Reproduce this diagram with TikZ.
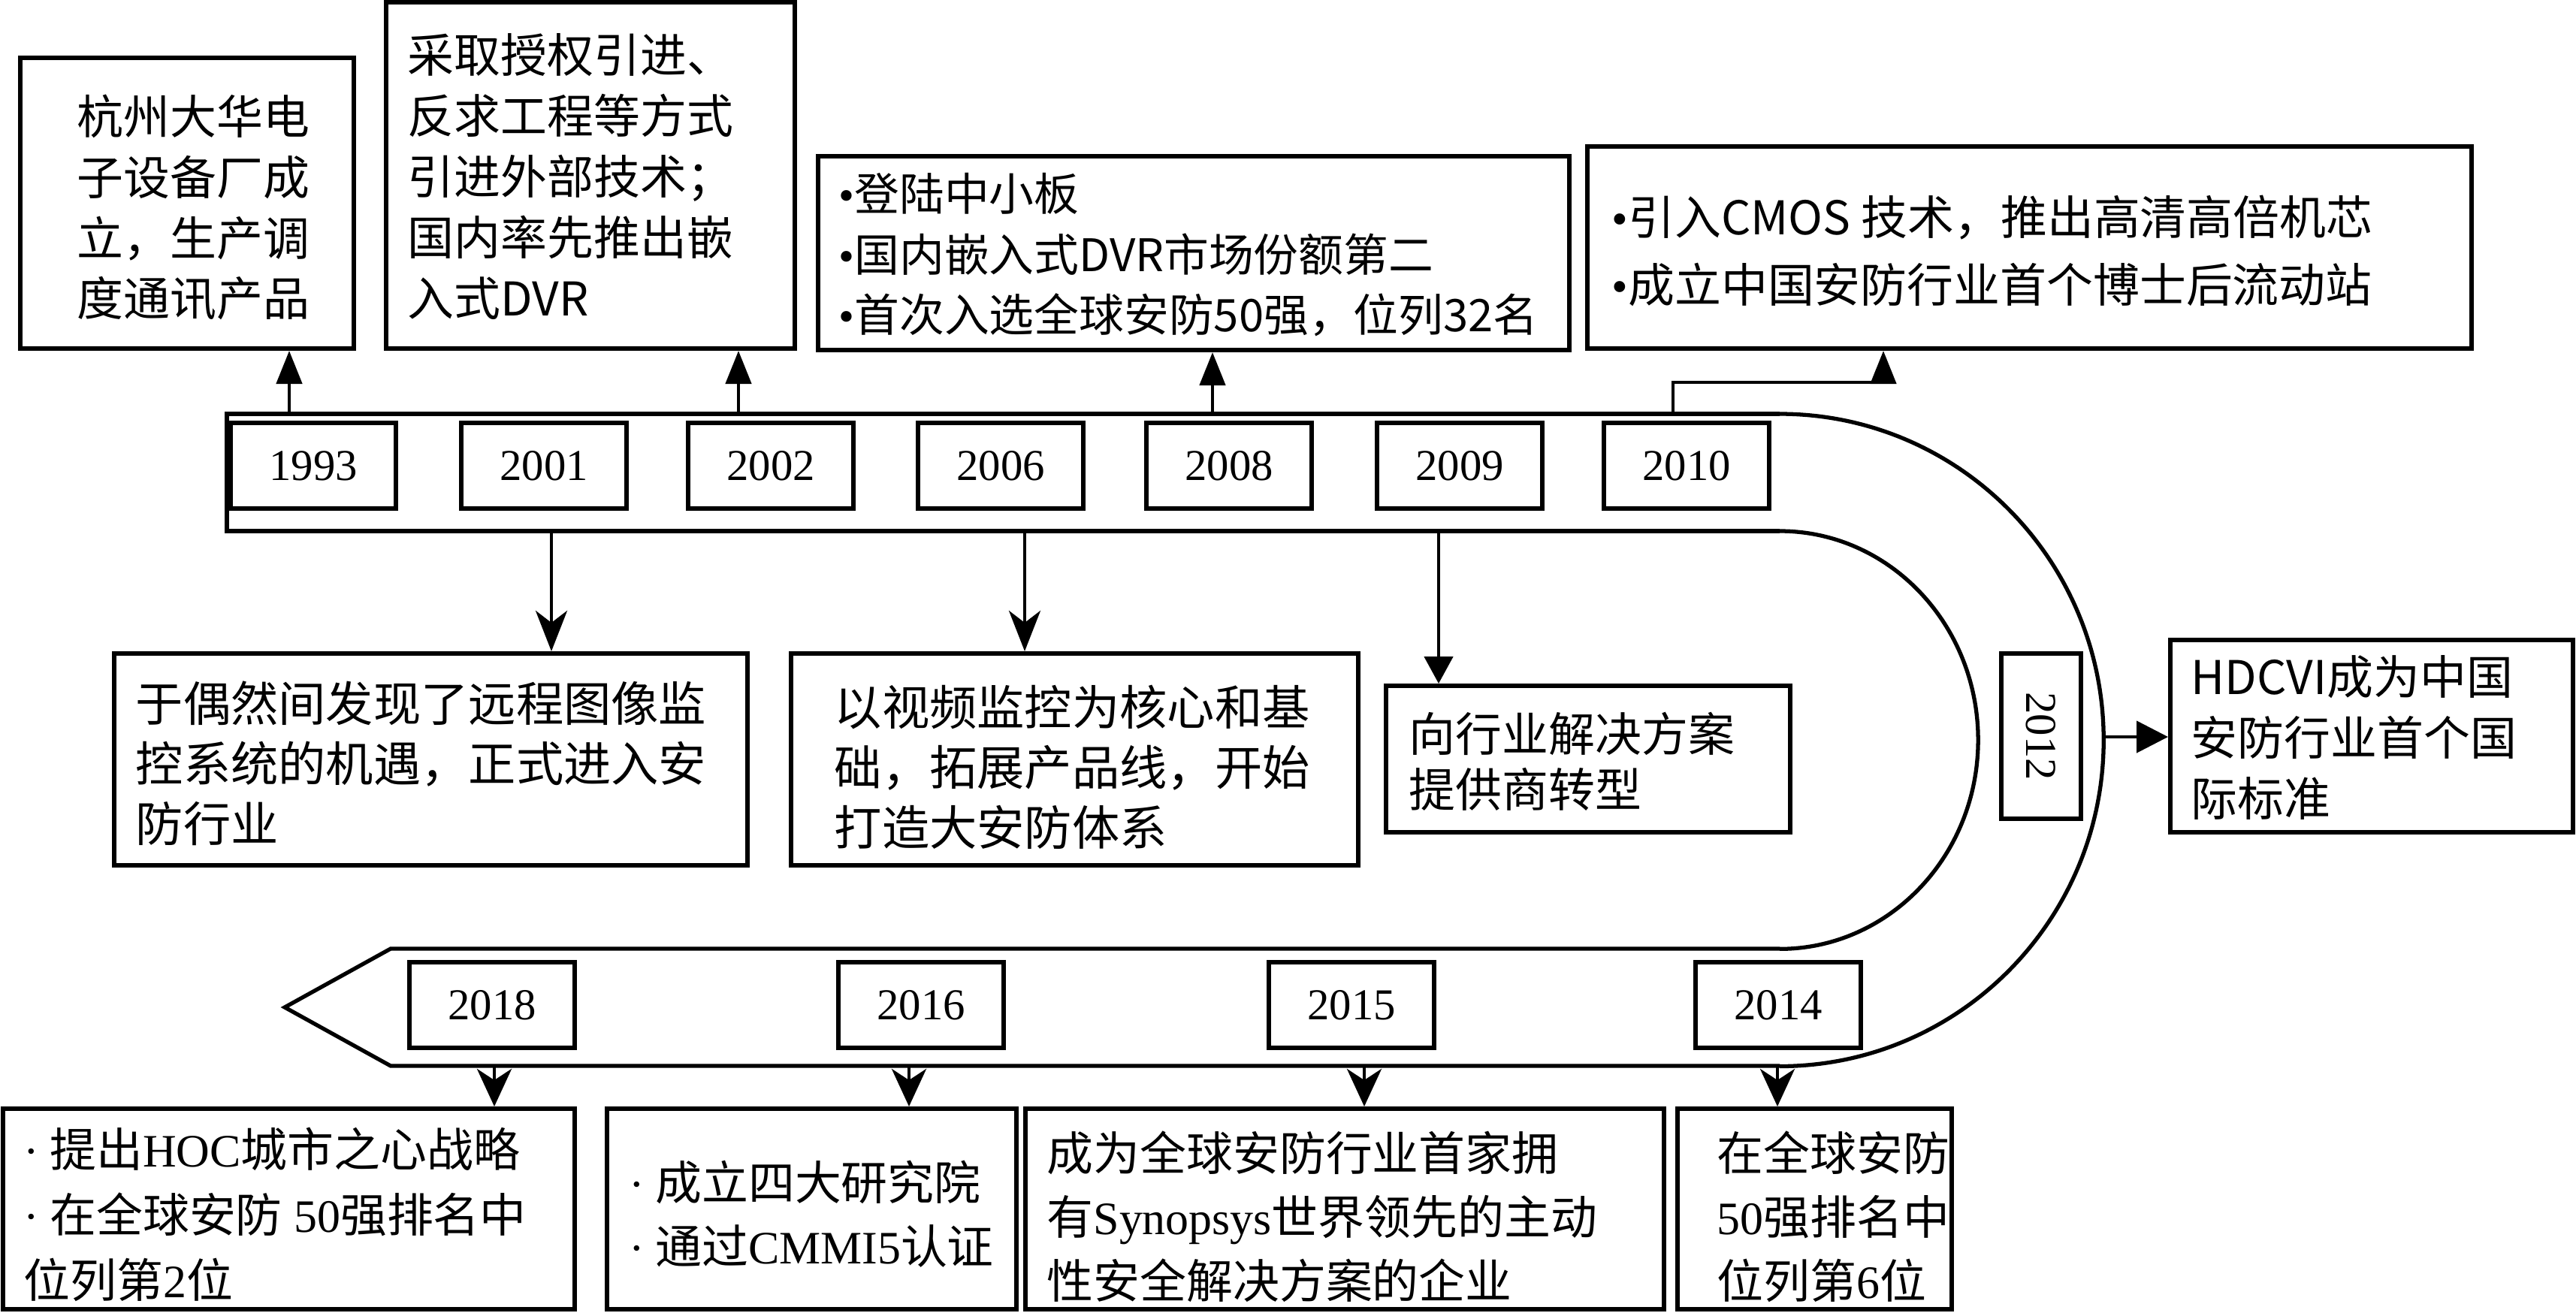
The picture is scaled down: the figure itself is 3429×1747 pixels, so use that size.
\documentclass[tikz,border=0pt]{standalone}
\usepackage{fontspec}
\setmainfont{Liberation Serif}
\newfontfamily\cjk{Noto Sans CJK SC}
\usetikzlibrary{arrows.meta,fit}
\newcommand\latn[1]{{\rmfamily #1}}
\newcommand\blt{{\rmfamily •}}
\begin{document}
\begin{tikzpicture}[x=0.01cm,y=-0.01cm,
 box/.style={draw,line width=1.7pt,inner sep=0pt},
 yrbox/.style={draw,line width=1.7pt,inner sep=0pt,minimum width=2.2cm,minimum height=1.14cm,font=\fontsize{16.7}{20}\selectfont},
 txt/.style={anchor=north west,inner sep=0pt,align=left},
 band/.style={line width=1.5pt},
 con/.style={line width=1.3pt},
 upar/.style={con,-{Triangle[length=0.44cm,width=0.34cm]}},
 dnar/.style={con,-{Stealth[length=0.54cm,width=0.42cm,inset=0.16cm]}},
 btar/.style={con,-{Stealth[length=0.5cm,width=0.46cm,inset=0.15cm]}},
]
\useasboundingbox (0,0) rectangle (3429,1747);

% ---- text boxes ----
\node[box,fit={(27,77)(471,464)}] (bA) {};
\node[box,fit={(514,3)(1058,464)}] (bB) {};
\node[box,fit={(1089,208)(2089,466)}] (bC) {};
\node[box,fit={(2113,195)(3290,464)}] (bD) {};
\node[box,fit={(152,870)(995,1152)}] (bI) {};
\node[box,fit={(1053,870)(1808,1152)}] (bJ) {};
\node[box,fit={(1845,913)(2383,1108)}] (bK) {};
\node[box,fit={(2889,852)(3425,1108)}] (bL) {};
\node[box,fit={(4,1476)(765,1743)}] (bE) {};
\node[box,fit={(808,1476)(1353,1743)}] (bF) {};
\node[box,fit={(1365,1476)(2215,1743)}] (bG) {};
\node[box,fit={(2233,1476)(2598,1743)}] (bH) {};

% ---- texts ----
\node[txt,font=\cjk\fontsize{17.6}{23}\selectfont] (tA) at (102,125) {杭州大华电\\子设备厂成\\立，生产调\\度通讯产品};
\node[txt,font=\cjk\fontsize{17.6}{23}\selectfont] (tB) at (542,44) {采取授权引进、\\反求工程等方式\\引进外部技术；\\国内率先推出嵌\\入式DVR};
\node[txt,font=\cjk\fontsize{17}{22.8}\selectfont] (tC) at (1116,230) {\blt 登陆中小板\\\blt 国内嵌入式DVR市场份额第二\\\blt 首次入选全球安防50强，位列32名};
\node[txt,font=\cjk\fontsize{17.6}{25.6}\selectfont] (tD) at (2145,259) {\blt 引入CMOS 技术，推出高清高倍机芯\\\blt 成立中国安防行业首个博士后流动站};
\node[txt,font=\cjk\fontsize{18}{22.8}\selectfont] (tI) at (180,906) {于偶然间发现了远程图像监\\控系统的机遇，正式进入安\\防行业};
\node[txt,font=\cjk\fontsize{18}{22.8}\selectfont] (tJ) at (1110,911) {以视频监控为核心和基\\础，拓展产品线，开始\\打造大安防体系};
\node[txt,font=\cjk\fontsize{17.6}{21.3}\selectfont] (tK) at (1875,947) {向行业解决方案\\提供商转型};
\node[txt,font=\cjk\fontsize{17.6}{23}\selectfont] (tL) at (2916,872) {HDCVI成为中国\\安防行业首个国\\际标准};
\node[txt,font=\cjk\fontsize{17.6}{24.8}\selectfont] (tE) at (31,1500) {\latn{·}\kern0.14cm提出\latn{HOC}城市之心战略\\\latn{·}\kern0.14cm在全球安防\latn{ 50}强排名中\\位列第\latn{2}位};
\node[txt,font=\cjk\fontsize{17.6}{24.2}\selectfont] (tF) at (837,1544) {\latn{·}\kern0.14cm成立四大研究院\\\latn{·}\kern0.14cm通过\latn{CMMI5}认证};
\node[txt,font=\cjk\fontsize{17.6}{24.2}\selectfont] (tG) at (1393,1505) {成为全球安防行业首家拥\\有\latn{Synopsys}世界领先的主动\\性安全解决方案的企业};
\node[txt,font=\cjk\fontsize{17.6}{24.2}\selectfont] (tH) at (2285,1505) {在全球安防\\\latn{50}强排名中\\位列第\latn{6}位};

% ---- timeline band ----
\draw[band] (2369,551) -- (302,551) -- (302,707) -- (2369,707);
\draw[band] (2369,551) arc[start angle=90,end angle=-90,x radius=4.31cm,y radius=4.34cm];
\draw[band] (2369,707) arc[start angle=90,end angle=-90,x radius=2.64cm,y radius=2.78cm];
\draw[band] (2369,1263) -- (520,1263) -- (379,1341) -- (520,1419) -- (2369,1419);

% ---- year boxes ----
\node[yrbox] (y1993) at (417,620) {1993};
\node[yrbox] (y2001) at (724,620) {2001};
\node[yrbox] (y2002) at (1026,620) {2002};
\node[yrbox] (y2006) at (1332,620) {2006};
\node[yrbox] (y2008) at (1636,620) {2008};
\node[yrbox] (y2009) at (1943,620) {2009};
\node[yrbox] (y2010) at (2245,620) {2010};
\node[yrbox,minimum width=1.06cm,minimum height=2.19cm] (y2012) at (2717,980) {\rotatebox{-90}{2012}};
\node[yrbox] (y2014) at (2367,1338) {2014};
\node[yrbox] (y2015) at (1799,1338) {2015};
\node[yrbox] (y2016) at (1226,1338) {2016};
\node[yrbox] (y2018) at (655,1338) {2018};

% ---- connectors ----
\coordinate (p1993) at (385,551);
\coordinate (p2002) at (983,551);
\coordinate (p2008) at (1614,551);
\coordinate (p2010) at (2227,551);
\coordinate (q2010) at (2507,509);
\coordinate (p2001) at (734,707);
\coordinate (p2006) at (1364,707);
\coordinate (p2009) at (1915,707);
\coordinate (p2012) at (2800,981);
\coordinate (p2018) at (658,1419);
\coordinate (p2016) at (1210,1419);
\coordinate (p2015) at (1816,1419);
\coordinate (p2014) at (2366,1419);

\draw[upar] (p1993) -- (p1993 |- bA.south);
\draw[upar] (p2002) -- (p2002 |- bB.south);
\draw[upar] (p2008) -- (p2008 |- bC.south);
\draw[upar] (p2010) |- (q2010) -- (q2010 |- bD.south);
\draw[dnar] (p2001) -- (p2001 |- bI.north);
\draw[dnar] (p2006) -- (p2006 |- bJ.north);
\draw[con,-{Triangle[length=0.36cm,width=0.38cm]}] (p2009) -- (p2009 |- bK.north);
\draw[con,-{Triangle[length=0.42cm,width=0.42cm]}] (p2012) -- (p2012 -| bL.west);
\draw[btar] (p2018) -- (p2018 |- bE.north);
\draw[btar] (p2016) -- (p2016 |- bF.north);
\draw[btar] (p2015) -- (p2015 |- bG.north);
\draw[btar] (p2014) -- (p2014 |- bH.north);
\end{tikzpicture}
\end{document}
